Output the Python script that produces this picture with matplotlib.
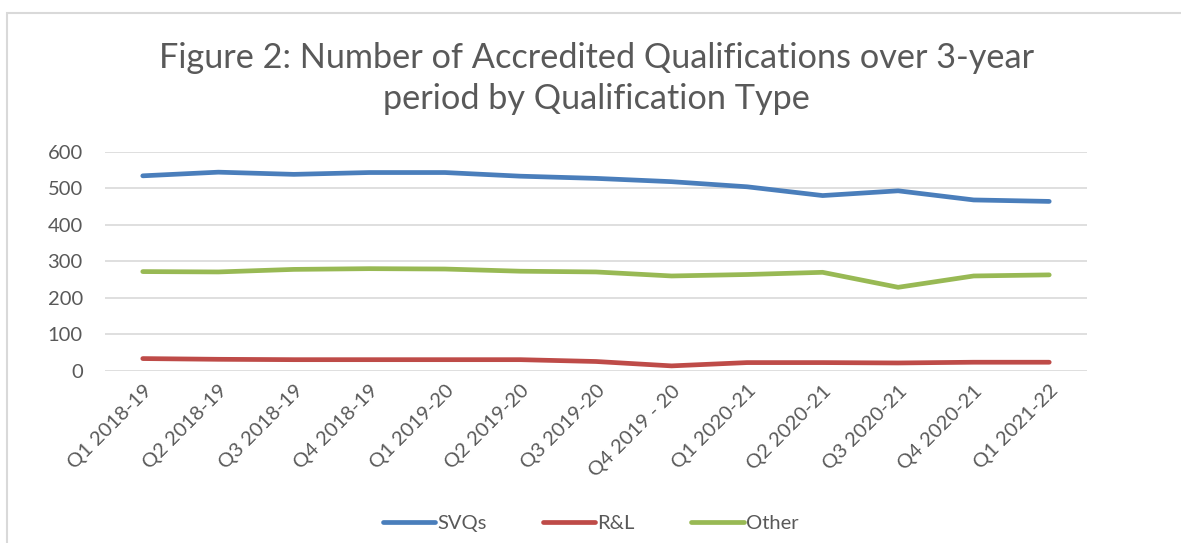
import numpy as np
import matplotlib
matplotlib.use("Agg")
import matplotlib.pyplot as plt
from matplotlib.patches import Rectangle

quarters = ["Q1 2018-19", "Q2 2018-19", "Q3 2018-19", "Q4 2018-19",
            "Q1 2019-20", "Q2 2019-20", "Q3 2019-20", "Q4 2019 - 20",
            "Q1 2020-21", "Q2 2020-21", "Q3 2020-21", "Q4 2020-21", "Q1 2021-22"]
svqs = [534, 544, 538, 543, 543, 533, 527, 518, 504, 480, 493, 468, 464]
rl = [34, 32, 31, 31, 31, 31, 26, 14, 23, 23, 22, 24, 24]
other = [272, 271, 278, 280, 279, 273, 271, 260, 264, 270, 229, 260, 263]

plt.rcParams['font.family'] = ['Lato', 'DejaVu Sans']
grey = "#595959"

fig = plt.figure(figsize=(11.81, 5.43), dpi=100)
# chart frame
fig.patches.append(Rectangle((7/1181, -0.1), 1.2, (543-13)/543 + 0.1,
                             transform=fig.transFigure, fill=False,
                             edgecolor="#D9D9D9", linewidth=1.5))

ax = fig.add_axes([105/1181, 1-371/543, (1087-105)/1181, (371-151.7)/543])
x = np.arange(len(quarters))
ax.plot(x, svqs, color="#4A7EBB", lw=3.4, solid_capstyle="round", label="SVQs")
ax.plot(x, rl, color="#BE4B48", lw=3.4, solid_capstyle="round", label="R&L")
ax.plot(x, other, color="#98B954", lw=3.4, solid_capstyle="round", label="Other")

ax.set_xlim(-0.5, len(quarters) - 0.5)
ax.set_ylim(0, 600)
ax.set_yticks(np.arange(0, 601, 100))
ax.grid(axis="y", color="#D9D9D9", lw=1.2)
ax.set_axisbelow(True)
for s in ax.spines.values():
    s.set_visible(False)
ax.tick_params(length=0, labelsize=14.5, labelcolor=grey)
ax.tick_params(axis="y", pad=16)
ax.set_xticks(x)
ax.set_xticklabels(quarters, rotation=45, ha="right", rotation_mode="anchor")
ax.tick_params(axis="x", pad=8)

fig.text(0.505, 1-42/543, "Figure 2: Number of Accredited Qualifications over 3-year\nperiod by Qualification Type",
         ha="center", va="top", fontsize=24.7, color=grey, linespacing=1.34)

fig.legend(loc="center", bbox_to_anchor=(0.5, 1-523/543), ncol=3, frameon=False,
           fontsize=14.5, labelcolor=grey, handlelength=2.6, handletextpad=0.1,
           columnspacing=2.8)

fig.savefig("out.png", dpi=100)
